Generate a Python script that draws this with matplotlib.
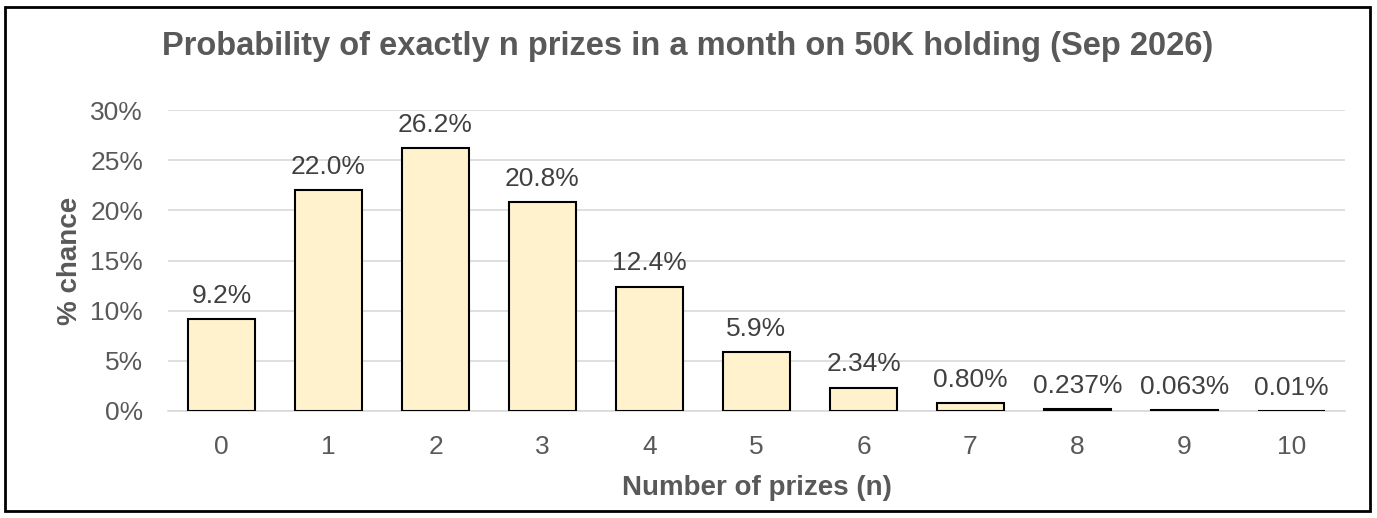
import matplotlib.pyplot as plt
from matplotlib.patches import Rectangle

plt.rcParams['font.family'] = ['Liberation Sans', 'DejaVu Sans']

# Data
prizes = ['0', '1', '2', '3', '4', '5', '6', '7', '8', '9', '10']
chance = [9.2, 22.0, 26.2, 20.8, 12.4, 5.9, 2.34, 0.80, 0.237, 0.063, 0.01]
labels = ['9.2%', '22.0%', '26.2%', '20.8%', '12.4%', '5.9%', '2.34%',
          '0.80%', '0.237%', '0.063%', '0.01%']
yticks = [0, 5, 10, 15, 20, 25, 30]

grey = '#595959'

fig = plt.figure(figsize=(13.77, 5.18), dpi=100)
ax = fig.add_axes([168 / 1377, 107 / 518, 1177 / 1377, 301 / 518])

x = list(range(len(prizes)))
ax.bar(x, chance, width=0.63, color='#FFF2CC', edgecolor='black',
       linewidth=1.5, zorder=3)

for xi, v, lab in zip(x, chance, labels):
    ax.annotate(lab, (xi, v), xytext=(0, 8), textcoords='offset points',
                ha='center', va='bottom', fontsize=19, color='#404040')

ax.set_xlim(-0.5, len(prizes) - 0.5)
ax.set_ylim(0, 30)
ax.set_yticks(yticks)
ax.set_yticklabels([f'{t}%' for t in yticks])
ax.set_xticks(x)
ax.set_xticklabels(prizes)
ax.tick_params(length=0, labelsize=19, colors=grey)
ax.tick_params(axis='x', pad=17)
ax.tick_params(axis='y', pad=18)

ax.grid(axis='y', color='#D9D9D9', linewidth=1.2, zorder=0)
for s in ax.spines.values():
    s.set_visible(False)
ax.spines['bottom'].set_visible(True)
ax.spines['bottom'].set_color('#D9D9D9')
ax.spines['bottom'].set_linewidth(1.2)

ax.set_xlabel('Number of prizes (n)', fontsize=20, fontweight='bold',
              color=grey, labelpad=12)
ax.set_ylabel('% chance', fontsize=20, fontweight='bold', color=grey,
              labelpad=5)

fig.text(688 / 1377, 1 - 46 / 518,
         'Probability of exactly n prizes in a month on 50K holding (Sep 2026)',
         ha='center', va='center', fontsize=23.5, fontweight='bold', color=grey)

# Outer chart border
fig.patches.append(Rectangle((5 / 1377, 7 / 518), 1365 / 1377, 504 / 518,
                             transform=fig.transFigure, fill=False,
                             edgecolor='black', linewidth=2))

fig.savefig('out.png', dpi=100)
